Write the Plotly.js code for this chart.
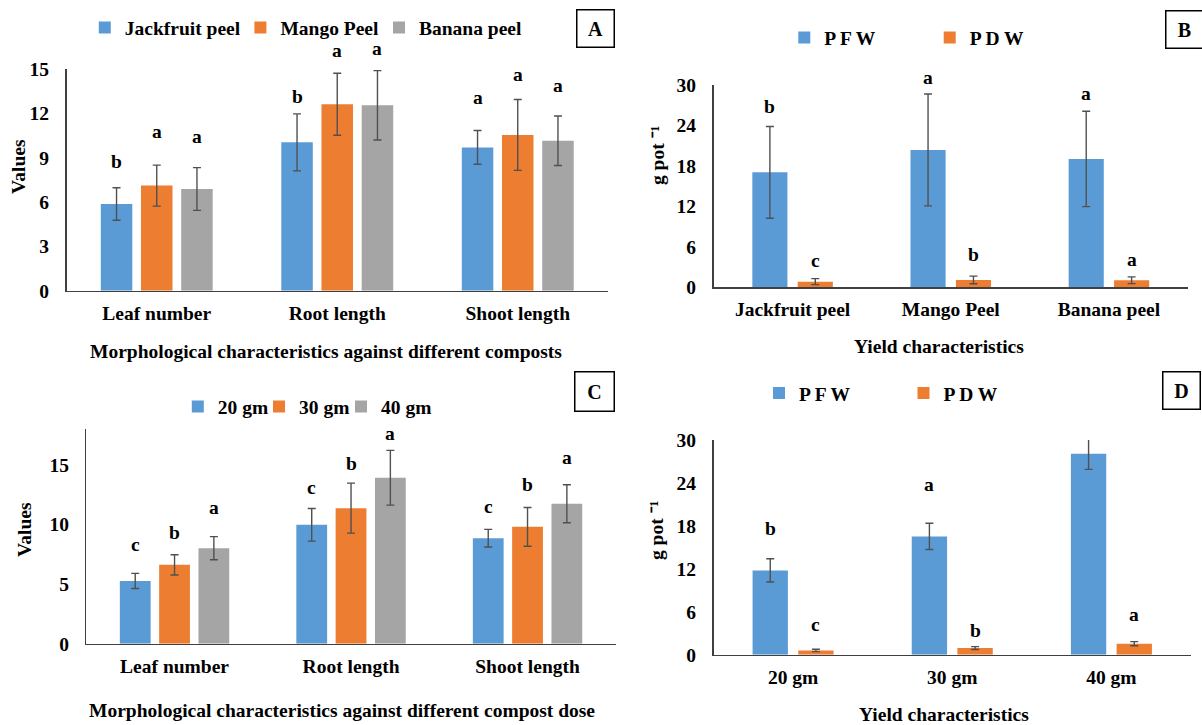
<!DOCTYPE html>
<html><head><meta charset="utf-8">
<script src="https://cdn.plot.ly/plotly-3.0.1.min.js"></script>
<style>html,body{margin:0;padding:0;background:#fff}#chart{width:1202px;height:725px}</style>
</head><body><div id="chart"></div>
<script>
// ---------- Panel A: morphology vs compost type ----------
const morphCategories = ['Leaf number', 'Root length', 'Shoot length'];
const compostNames = ['Jackfruit peel', 'Mango Peel', 'Banana peel'];
const jackfruitA = [5.87, 10.05, 9.71];
const jackfruitErrA = [1.10, 1.93, 1.14];
const mangoA = [7.12, 12.63, 10.55];
const mangoErrA = [1.39, 2.10, 2.40];
const bananaA = [6.89, 12.56, 10.16];
const bananaErrA = [1.45, 2.35, 1.68];
const jackfruitLettersA = ['b', 'b', 'a'];
const mangoLettersA = ['a', 'a', 'a'];
const bananaLettersA = ['a', 'a', 'a'];

// ---------- Panel B: yield vs compost type ----------
const yieldCategoriesB = ['Jackfruit peel', 'Mango Peel', 'Banana peel'];
const pfwB = [17.05, 20.37, 19.03];
const pfwErrB = [6.80, 8.30, 7.07];
const pdwB = [0.84, 1.09, 1.04];
const pdwErrB = [0.45, 0.57, 0.50];
const pfwLettersB = ['b', 'a', 'a'];
const pdwLettersB = ['c', 'b', 'a'];

// ---------- Panel C: morphology vs compost dose ----------
const doseNames = ['20 gm', '30 gm', '40 gm'];
const dose20C = [5.27, 9.98, 8.86];
const dose20ErrC = [0.63, 1.37, 0.74];
const dose30C = [6.62, 11.38, 9.81];
const dose30ErrC = [0.85, 2.10, 1.63];
const dose40C = [8.02, 13.93, 11.75];
const dose40ErrC = [0.97, 2.30, 1.60];
const dose20LettersC = ['c', 'c', 'c'];
const dose30LettersC = ['b', 'b', 'b'];
const dose40LettersC = ['a', 'a', 'a'];

// ---------- Panel D: yield vs compost dose ----------
const yieldCategoriesD = ['20 gm', '30 gm', '40 gm'];
const pfwD = [11.78, 16.53, 28.09];
const pfwErrD = [1.63, 1.84, 2.20];
const pdwD = [0.60, 0.93, 1.54];
const pdwErrD = [0.17, 0.20, 0.28];
const pfwLettersD = ['b', 'a', 'a'];
const pdwLettersD = ['c', 'b', 'a'];

const seriesNamesYield = ['P F W', 'P D W'];

// ---------- styling ----------
const FONT = 'Liberation Serif, Times New Roman, serif';
const FS = 19.5;
const BLUE = '#5B9BD5', ORANGE = '#ED7D31', GRAY = '#A5A5A5';
const W = 1202, H = 725;
const px = v => v / W;
const py = v => 1 - v / H;
const boldFont = (size) => ({family: FONT, size: size || FS, color: '#000', weight: 'bold'});

// bar geometry (fraction of category width)
const tri = {w: 0.1745, off: [-0.310, -0.0873, 0.1355]};
const duo = {w: 0.222, off: [-0.2545, 0.0325]};
// pixel lift of significance letters (baseline above error-bar cap)
const liftA = [[20, 11, 26.7], [27, 16.7, 18.3], [24.4, 15.3, 23.7]];
const liftB = [[13.4, 10.3, 11], [11.7, 14.7, 11]];
const liftC = [[22, 14.7, 16.7], [15.7, 13.3, 16], [23, 10.3, 20.7]];
const liftD = [[23.3, 32, 9.3], [17.7, 10, 21]];

function barTrace(name, cats, vals, errs, color, ax, legend, off, w) {
  return {
    type: 'bar', name: name, x: cats, y: vals,
    xaxis: 'x' + ax, yaxis: 'y' + ax, legend: legend,
    offset: off, width: w,
    marker: {color: color, line: {width: 0}},
    error_y: {type: 'data', array: errs, visible: true, color: '#505050', thickness: 1.4, width: 4},
    hoverinfo: 'skip'
  };
}

const traces = [
  barTrace(compostNames[0], morphCategories, jackfruitA, jackfruitErrA, BLUE, '', 'legend', tri.off[0], tri.w),
  barTrace(compostNames[1], morphCategories, mangoA, mangoErrA, ORANGE, '', 'legend2', tri.off[1], tri.w),
  barTrace(compostNames[2], morphCategories, bananaA, bananaErrA, GRAY, '', 'legend3', tri.off[2], tri.w),
  barTrace(seriesNamesYield[0], yieldCategoriesB, pfwB, pfwErrB, BLUE, '2', 'legend4', duo.off[0], duo.w),
  barTrace(seriesNamesYield[1], yieldCategoriesB, pdwB, pdwErrB, ORANGE, '2', 'legend5', duo.off[1], duo.w),
  barTrace(doseNames[0], morphCategories, dose20C, dose20ErrC, BLUE, '3', 'legend6', tri.off[0], tri.w),
  barTrace(doseNames[1], morphCategories, dose30C, dose30ErrC, ORANGE, '3', 'legend7', tri.off[1], tri.w),
  barTrace(doseNames[2], morphCategories, dose40C, dose40ErrC, GRAY, '3', 'legend8', tri.off[2], tri.w),
  barTrace(seriesNamesYield[0], yieldCategoriesD, pfwD, pfwErrD, BLUE, '4', 'legend9', duo.off[0], duo.w),
  barTrace(seriesNamesYield[1], yieldCategoriesD, pdwD, pdwErrD, ORANGE, '4', 'legend10', duo.off[1], duo.w)
];

function letterAnns(letters, vals, errs, centre, lifts, ax) {
  return letters.map((t, i) => ({
    xref: 'x' + ax, yref: 'y' + ax, x: i + centre, y: vals[i] + errs[i],
    xanchor: 'center', yanchor: 'bottom', yshift: lifts[i] - 6,
    text: t, showarrow: false, font: boldFont(FS)
  }));
}
const triC = tri.off.map(o => o + tri.w / 2);
const duoC = duo.off.map(o => o + duo.w / 2);

function paperText(text, x, y, angle) {
  return {xref: 'paper', yref: 'paper', x: px(x), y: py(y), xanchor: 'center', yanchor: 'middle',
    text: text, showarrow: false, textangle: angle || 0, font: boldFont(FS)};
}
function panelBox(letter, x, y, w, h) {
  return {xref: 'paper', yref: 'paper', x: px(x), y: py(y), xanchor: 'center', yanchor: 'middle',
    text: letter, showarrow: false, font: boldFont(20), width: w, height: h,
    bordercolor: '#000', borderwidth: 1.5, borderpad: 0, bgcolor: '#fff'};
}

const annotations = [].concat(
  letterAnns(jackfruitLettersA, jackfruitA, jackfruitErrA, triC[0], liftA[0], ''),
  letterAnns(mangoLettersA, mangoA, mangoErrA, triC[1], liftA[1], ''),
  letterAnns(bananaLettersA, bananaA, bananaErrA, triC[2], liftA[2], ''),
  letterAnns(pfwLettersB, pfwB, pfwErrB, duoC[0], liftB[0], '2'),
  letterAnns(pdwLettersB, pdwB, pdwErrB, duoC[1], liftB[1], '2'),
  letterAnns(dose20LettersC, dose20C, dose20ErrC, triC[0], liftC[0], '3'),
  letterAnns(dose30LettersC, dose30C, dose30ErrC, triC[1], liftC[1], '3'),
  letterAnns(dose40LettersC, dose40C, dose40ErrC, triC[2], liftC[2], '3'),
  letterAnns(pfwLettersD, pfwD, pfwErrD, duoC[0], liftD[0], '4'),
  letterAnns(pdwLettersD, pdwD, pdwErrD, duoC[1], liftD[1], '4'),
  [
    paperText('Morphological characteristics against different composts', 326, 352),
    paperText('Yield characteristics', 939, 347),
    paperText('Morphological characteristics against different compost dose', 342, 710),
    paperText('Yield characteristics', 944, 714),
    paperText('Values', 18, 167, -90),
    paperText('Values', 24, 530, -90),
    paperText('g pot \u207B\u00B9', 657, 155, -90),
    paperText('g pot \u207B\u00B9', 656, 530, -90),
    panelBox('A', 595.5, 28.8, 36, 36),
    panelBox('B', 1184.5, 30, 36, 36),
    panelBox('C', 594.3, 392, 38, 38),
    panelBox('D', 1181.2, 390, 36, 36)
  ]
);

function xAxis(d0, d1, anchor) {
  return {domain: [px(d0), px(d1)], anchor: anchor, type: 'category', range: [-0.5, 2.5],
    showline: true, linecolor: '#404040', linewidth: 1.5, showgrid: false, zeroline: false,
    ticks: '', tickfont: boldFont(FS), ticklabelstandoff: 4, fixedrange: true};
}
function yAxis(top, bottom, anchor, maxV, dt) {
  return {domain: [py(bottom), py(top)], anchor: anchor, range: [0, maxV], dtick: dt, tick0: 0,
    showline: true, linecolor: '#404040', linewidth: 1.5, showgrid: false, zeroline: false,
    ticks: '', tickfont: boldFont(FS), ticklabelstandoff: 12, fixedrange: true};
}
// one legend per entry, placed by where its text starts
function legendAt(textStart, y) {
  return {orientation: 'h', x: px(textStart - 38), y: py(y), xanchor: 'left', yanchor: 'middle',
    bgcolor: 'rgba(0,0,0,0)', borderwidth: 0, font: boldFont(FS), itemclick: false, itemdoubleclick: false};
}

const layout = {
  width: W, height: H, margin: {l: 0, r: 0, t: 0, b: 0},
  paper_bgcolor: '#fff', plot_bgcolor: '#fff', barmode: 'group', showlegend: true,
  font: {family: FONT, color: '#000'},
  xaxis: xAxis(66.5, 608, 'y'),
  yaxis: yAxis(69.3, 290.7, 'x', 15, 3),
  xaxis2: xAxis(713.5, 1188, 'y2'),
  yaxis2: yAxis(85, 287.3, 'x2', 30, 6),
  xaxis3: xAxis(86.3, 615.8, 'y3'),
  yaxis3: yAxis(429.3, 643.7, 'x3', 18, 5),
  xaxis4: xAxis(713.5, 1191, 'y4'),
  yaxis4: yAxis(440, 654.7, 'x4', 30, 6),
  legend: legendAt(122.8, 27.7),
  legend2: legendAt(278.4, 27.7),
  legend3: legendAt(417, 27.7),
  legend4: legendAt(822.3, 37.7),
  legend5: legendAt(967.7, 37.7),
  legend6: legendAt(215.8, 406.7),
  legend7: legendAt(297, 406.7),
  legend8: legendAt(379, 406.7),
  legend9: legendAt(797, 393.3),
  legend10: legendAt(941.5, 393.3),
  annotations: annotations
};

Plotly.newPlot('chart', traces, layout, {displayModeBar: false, staticPlot: true});
</script>
</body></html>
